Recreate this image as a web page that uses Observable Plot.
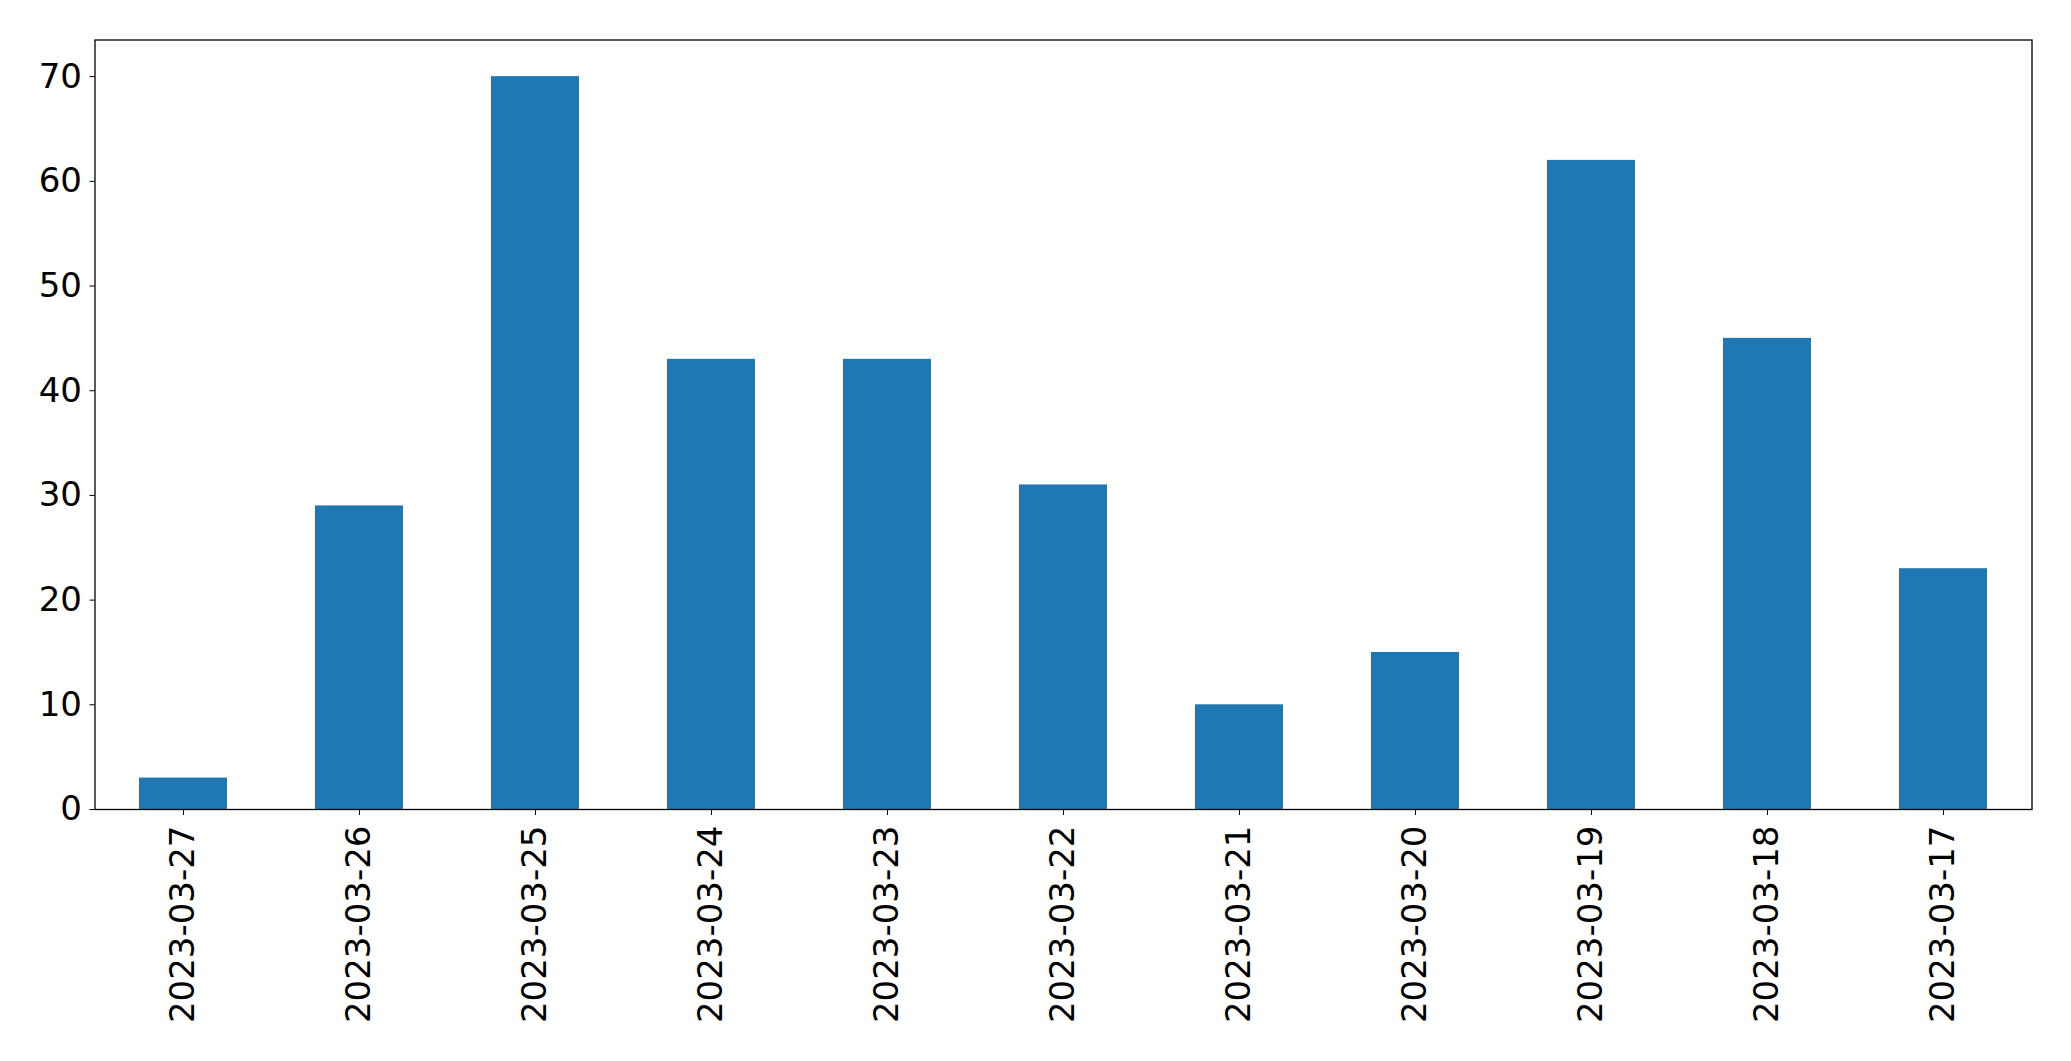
<!DOCTYPE html>
<html>
<head>
<meta charset="utf-8">
<script src="https://cdn.jsdelivr.net/npm/d3@7"></script>
<script src="https://cdn.jsdelivr.net/npm/@observablehq/plot@0.6"></script>
<style>
  html, body { margin: 0; padding: 0; background: #fff; }
  #chart svg { display: block; }
</style>
</head>
<body>
<div id="chart"></div>
<script>
const dates = ["2023-03-27","2023-03-26","2023-03-25","2023-03-24","2023-03-23","2023-03-22","2023-03-21","2023-03-20","2023-03-19","2023-03-18","2023-03-17"];
const counts = [3, 29, 70, 43, 43, 31, 10, 15, 62, 45, 23];
const yTicks = [0, 10, 20, 30, 40, 50, 60, 70];

const data = dates.map((d, i) => ({date: d, count: counts[i]}));

const chart = Plot.plot({
  width: 2071,
  height: 1061,
  marginLeft: 94.5,
  marginRight: 39.5,
  marginTop: 39.5,
  marginBottom: 252,
  style: {fontFamily: "DejaVu Sans", fontSize: "34px", background: "#fff", color: "#000"},
  x: {domain: dates, paddingInner: 0.5, paddingOuter: 0.25, label: null},
  y: {domain: [0, 73.5], label: null},
  marks: [
    Plot.barY(data, {x: "date", y: "count", fill: "#1f77b4"}),
    Plot.axisY({ticks: yTicks, tickSize: 5, tickPadding: 8, fontSize: 34, label: null, stroke: "#000", color: "#000"}),
    Plot.axisX({tickSize: 6, tickPadding: 10, tickRotate: -90, fontSize: 34, label: null, stroke: "#000"}),
    Plot.frame({stroke: "#000", strokeWidth: 1.3})
  ]
});
document.getElementById("chart").appendChild(chart);
</script>
</body>
</html>
